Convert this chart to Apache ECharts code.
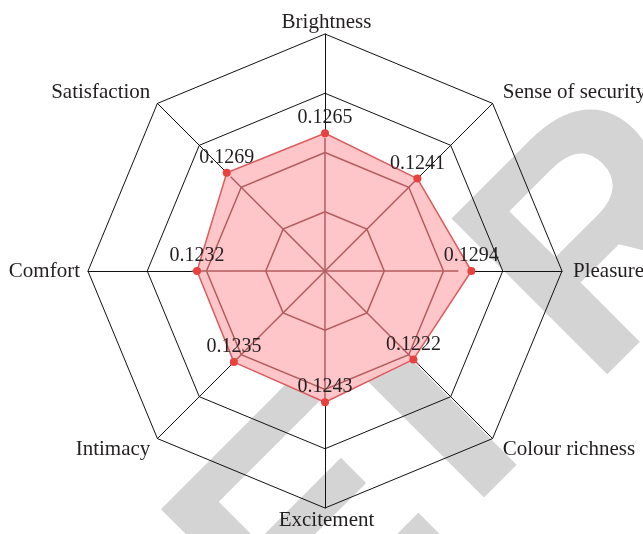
<!DOCTYPE html>
<html>
<head>
<meta charset="utf-8">
<script src="https://cdn.jsdelivr.net/npm/echarts@6/dist/echarts.min.js"></script>
<style>
  html, body { margin: 0; padding: 0; background: #fff; }
  #chart { width: 643px; height: 534px; }
</style>
</head>
<body>
<div id="chart"></div>
<script>
  // indicators, counter-clockwise from the top
  var indicatorNames = ['Brightness', 'Satisfaction', 'Comfort', 'Intimacy', 'Excitement', 'Colour richness', 'Pleasure', 'Sense of security'];
  var scores = [0.1265, 0.1269, 0.1232, 0.1235, 0.1243, 0.1222, 0.1294, 0.1241];
  var axisMin = 0.08;
  var axisMax = 0.16;

  var serif = 'Liberation Serif';
  var textColor = '#231f20';
  var innerLine = '#b25c5f';
  var cx = 325, cy = 271, R = 237;

  var myChart = echarts.init(document.getElementById('chart'));

  var indicators = indicatorNames.map(function (n) {
    return { name: n, min: axisMin, max: axisMax };
  });

  // diagonal names sit a bit further out vertically than echarts puts them
  function nameFormatter(name) {
    var i = indicatorNames.indexOf(name);
    if (i === 1 || i === 7) return name + '\n ';
    if (i === 3 || i === 5) return ' \n' + name;
    return name;
  }

  var common = {
    center: [cx, cy],
    radius: R,
    startAngle: 90,
    shape: 'polygon',
    splitNumber: 4,
    indicator: indicators,
    nameGap: 3,
    splitArea: { show: false },
    axisTick: { show: false },
    axisLabel: { show: false }
  };

  // black web under the fill
  var radarBack = Object.assign({}, common, {
    z: 1,
    axisName: {
      color: textColor,
      fontFamily: serif,
      fontSize: 21,
      lineHeight: 18,
      padding: [0, 5, 0, 8],
      formatter: nameFormatter
    },
    splitLine: { lineStyle: { color: '#111', width: 1 } },
    axisLine: { lineStyle: { color: '#111', width: 1 } }
  });

  // reddish web seen through the fill (only the inner part)
  var spokeColor = new echarts.graphic.RadialGradient(cx, cy, R, [
    { offset: 0, color: innerLine },
    { offset: 0.56, color: innerLine },
    { offset: 0.565, color: 'rgba(178,92,95,0)' },
    { offset: 1, color: 'rgba(178,92,95,0)' }
  ], true);
  var radarFront = Object.assign({}, common, {
    z: 3,
    axisName: { show: false },
    splitLine: { lineStyle: { color: [innerLine, innerLine, innerLine, 'rgba(0,0,0,0)', 'rgba(0,0,0,0)'], width: 1.5 } },
    axisLine: { lineStyle: { color: spokeColor, width: 1.5 } }
  });

  // faint "RETRACTED" watermark, letters rotated 45deg
  var wmSize = 320;
  function wmLetter(ch, x) {
    return {
      type: 'text', x: x, y: -0.103 * wmSize, z: -5,
      style: { text: ch, fontFamily: 'Liberation Sans', fontWeight: 'bold', fontSize: wmSize, fill: '#d4d4d4', align: 'left', verticalAlign: 'top' }
    };
  }

  var option = {
    backgroundColor: '#ffffff',
    animation: false,
    graphic: [{
      type: 'group',
      x: 457,
      y: 220,
      rotation: Math.PI / 4,
      z: -5,
      children: [
        wmLetter('E', -240 - 0.61 * wmSize),
        wmLetter('T', -154 - 0.3055 * wmSize),
        wmLetter('R', -0.076 * wmSize)
      ]
    }],
    radar: [radarBack, radarFront],
    series: [
      {
        name: 'area',
        type: 'radar',
        radarIndex: 0,
        z: 2,
        silent: true,
        symbol: 'none',
        lineStyle: { opacity: 0 },
        areaStyle: { color: '#fec6c9', opacity: 1 },
        data: [{ value: scores }]
      },
      {
        name: 'scores',
        type: 'radar',
        radarIndex: 0,
        z: 4,
        symbol: 'circle',
        symbolSize: 8,
        itemStyle: { color: '#e8413e' },
        lineStyle: { color: '#dc5d60', width: 1.5 },
        label: {
          show: true,
          position: 'top',
          distance: 1,
          color: textColor,
          fontFamily: serif,
          fontSize: 20,
          formatter: function (p) { return Number(p.value).toFixed(4); }
        },
        data: [{ value: scores }]
      }
    ]
  };
  myChart.setOption(option);
</script>
</body>
</html>
